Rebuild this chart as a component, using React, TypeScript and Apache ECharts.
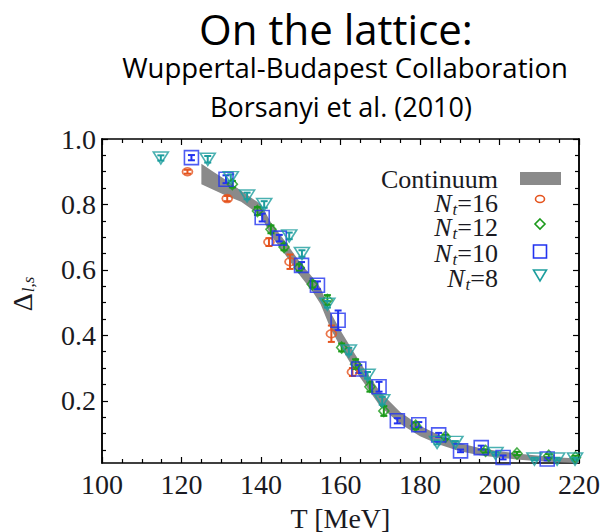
import React, { useEffect, useRef } from "react";
import * as echarts from "echarts";

// ---- axis ticks ----
const xMin = 100;
const xMax = 220;
const xStep = 20;
const yMin = 0.01;
const yMax = 1.0;
const yMajorTicks = [0.2, 0.4, 0.6, 0.8, 1.0];
const yMinorTicks = [0.05, 0.1, 0.15, 0.25, 0.3, 0.35, 0.45, 0.5, 0.55, 0.65, 0.7, 0.75, 0.85, 0.9, 0.95];

// ---- continuum band ----
const bandT = [125, 128, 131, 135, 140, 142.5, 145, 150, 153, 155, 157.5, 160, 163, 166, 170, 175, 180, 185, 190, 195, 200, 205, 210, 215, 220];
const bandLow = [0.862, 0.845, 0.828, 0.808, 0.765, 0.705, 0.665, 0.58, 0.533, 0.495, 0.42, 0.365, 0.305, 0.253, 0.183, 0.13, 0.092, 0.066, 0.046, 0.034, 0.026, 0.02, 0.015, 0.012, 0.01];
const bandHigh = [0.924, 0.9, 0.876, 0.842, 0.8, 0.745, 0.705, 0.62, 0.577, 0.545, 0.47, 0.415, 0.355, 0.297, 0.227, 0.166, 0.124, 0.094, 0.07, 0.056, 0.046, 0.038, 0.032, 0.027, 0.024];

// ---- N_t = 16 ----
const nt16T = [121.5, 131.5, 142.0, 147.3, 157.7, 163.0];
const nt16V = [0.9, 0.818, 0.685, 0.625, 0.405, 0.288];
const nt16E = [0.006, 0.008, 0.012, 0.022, 0.025, 0.012];

// ---- N_t = 12 ----
const nt12T = [132.8, 139.1, 142.5, 145.8, 149.6, 152.9, 156.7, 160.3, 163.8, 167.4, 170.9, 178.9, 186.4, 196.5, 204.4, 212.4, 219.1];
const nt12V = [0.862, 0.78, 0.724, 0.67, 0.607, 0.556, 0.508, 0.363, 0.312, 0.243, 0.169, 0.124, 0.09, 0.047, 0.039, 0.032, 0.027];
const nt12E = [0.01, 0.012, 0.012, 0.01, 0.01, 0.01, 0.015, 0.012, 0.015, 0.015, 0.015, 0.01, 0.006, 0.005, 0.005, 0.005, 0.005];

// ---- N_t = 10 ----
const nt10T = [122.5, 131.2, 140.3, 144.6, 150.2, 154.2, 159.4, 164.6, 169.7, 174.3, 179.7, 184.7, 190.2, 195.4, 200.9, 212.0];
const nt10V = [0.943, 0.877, 0.76, 0.697, 0.614, 0.553, 0.446, 0.297, 0.243, 0.139, 0.127, 0.096, 0.047, 0.057, 0.027, 0.022];
const nt10E = [0.008, 0.012, 0.012, 0.01, 0.01, 0.012, 0.03, 0.012, 0.015, 0.008, 0.008, 0.006, 0.004, 0.006, 0.006, 0.004];

// ---- N_t = 8 ----
const nt8T = [114.8, 126.6, 132.4, 136.5, 140.8, 147.1, 150.3, 156.7, 162.1, 166.8, 170.5, 184.3, 188.9, 199.0, 208.8, 214.5, 219.0];
const nt8V = [0.942, 0.938, 0.882, 0.826, 0.8, 0.704, 0.65, 0.495, 0.352, 0.278, 0.2, 0.073, 0.073, 0.039, 0.022, 0.022, 0.022];
const nt8E = [0.008, 0.01, 0.01, 0.01, 0.01, 0.01, 0.01, 0.01, 0.01, 0.01, 0.012, 0.006, 0.004, 0.004, 0.004, 0.004, 0.004];

const C16 = "#e5541e";
const C12 = "#1c9a1c";
const C10 = "#2233f0";
const C8 = "#1d9e9e";
const BAND = "#8a8a8a";

const SERIF = "Liberation Serif";
const SANS = "Open Sans";
const INK = "#1a1a22";

function errSeries(T: number[], V: number[], E: number[], color: string) {
  return {
    type: "custom",
    silent: true,
    z: 3,
    data: T.map((t, i) => [t, V[i], E[i]]),
    encode: { x: 0, y: 1 },
    renderItem: (_params: any, api: any) => {
      const x = api.value(0);
      const y = api.value(1);
      const e = api.value(2);
      const p1 = api.coord([x, y + e]);
      const p2 = api.coord([x, y - e]);
      const w = 3.5;
      const st = { stroke: color, lineWidth: 2 };
      return {
        type: "group",
        children: [
          { type: "line", shape: { x1: p1[0], y1: p1[1], x2: p2[0], y2: p2[1] }, style: st },
          { type: "line", shape: { x1: p1[0] - w, y1: p1[1], x2: p1[0] + w, y2: p1[1] }, style: st },
          { type: "line", shape: { x1: p2[0] - w, y1: p2[1], x2: p2[0] + w, y2: p2[1] }, style: st },
        ],
      };
    },
  };
}

function scatter(name: string, T: number[], V: number[], color: string, symbol: string, size: any, rotate = 0) {
  return {
    name,
    type: "scatter",
    z: 4,
    data: T.map((t, i) => [t, V[i]]),
    symbol,
    symbolSize: size,
    symbolRotate: rotate,
    itemStyle: { color: "rgba(255,255,255,0)", borderColor: color, borderWidth: 1.6 },
  };
}

const axisLineStyle = { color: "#000", width: 1.5 };

function yAxisDef(position: string, ticks: number[], len: number, labels: boolean) {
  return {
    type: "value",
    position,
    min: yMin,
    max: yMax,
    splitLine: { show: false },
    axisLine: { show: true, onZero: false, lineStyle: axisLineStyle },
    axisTick: { show: true, inside: true, length: len, customValues: ticks, lineStyle: { color: "#000", width: 1.2 } },
    axisLabel: labels
      ? {
          show: true,
          customValues: yMajorTicks,
          formatter: (v: number) => v.toFixed(1),
          fontFamily: SERIF,
          fontSize: 28,
          color: INK,
          margin: 6,
        }
      : { show: false },
  };
}

function xAxisDef(position: string, labels: boolean) {
  return {
    type: "value",
    position,
    min: xMin,
    max: xMax,
    interval: xStep,
    splitLine: { show: false },
    axisLine: { show: true, onZero: false, lineStyle: axisLineStyle },
    axisTick: { show: true, inside: true, length: 6, lineStyle: { color: "#000", width: 1.2 } },
    minorTick: { show: true, splitNumber: 4, length: 4, lineStyle: { color: "#000", width: 1.2 } },
    axisLabel: labels
      ? { show: true, fontFamily: SERIF, fontSize: 28, color: INK, margin: 7 }
      : { show: false },
    name: labels ? "T [MeV]" : "",
    nameLocation: "middle",
    nameGap: 41,
    nameTextStyle: { fontFamily: SERIF, fontSize: 28, color: INK },
  };
}

const legendRows = [
  { label: "16", y: 203 },
  { label: "12", y: 227 },
  { label: "10", y: 253 },
  { label: "8", y: 278 },
];

export default function App() {
  const ref = useRef<HTMLDivElement>(null);
  useEffect(() => {
    if (!ref.current) return;
    const chart = echarts.init(ref.current, null, { renderer: "svg" });
    const legendText = legendRows.map((r) => ({
      type: "text",
      x: 498,
      y: r.y,
      style: {
        text: `{n|N}{t|t}{r|=${r.label}}`,
        align: "right",
        verticalAlign: "middle",
        fill: INK,
        rich: {
          n: { fontFamily: SERIF, fontSize: 26, lineHeight: 20, fontStyle: "italic", fill: INK },
          t: { fontFamily: SERIF, fontSize: 17, lineHeight: 12, fontStyle: "italic", fill: INK, padding: [12, 0, 0, 1] },
          r: { fontFamily: SERIF, fontSize: 26, lineHeight: 20, fill: INK },
        },
      },
    }));
    const option: any = {
      animation: false,
      backgroundColor: "#fff",
      grid: { left: 102, right: 25, top: 139, bottom: 69, containLabel: false, outerBoundsMode: "none" },
      xAxis: [xAxisDef("bottom", true), xAxisDef("top", false)],
      yAxis: [
        yAxisDef("left", yMajorTicks, 6, true),
        yAxisDef("left", yMinorTicks, 4, false),
        yAxisDef("right", yMajorTicks, 6, false),
        yAxisDef("right", yMinorTicks, 4, false),
      ],
      series: [
        {
          type: "custom",
          name: "Continuum",
          silent: true,
          z: 1,
          data: [[bandT[0], bandLow[0]]],
          encode: { x: 0, y: 1 },
          renderItem: (_p: any, api: any) => {
            const top = bandT.map((t, i) => api.coord([t, bandHigh[i]]));
            const bot = bandT.map((t, i) => api.coord([t, bandLow[i]])).reverse();
            return { type: "polygon", shape: { points: top.concat(bot) }, style: { fill: BAND } };
          },
        },
        errSeries(nt16T, nt16V, nt16E, C16),
        scatter("Nt=16", nt16T, nt16V, C16, "circle", [10, 8]),
        errSeries(nt12T, nt12V, nt12E, C12),
        scatter("Nt=12", nt12T, nt12V, C12, "diamond", [10, 11]),
        errSeries(nt10T, nt10V, nt10E, C10),
        scatter("Nt=10", nt10T, nt10V, C10, "rect", [14, 14]),
        errSeries(nt8T, nt8V, nt8E, C8),
        scatter("Nt=8", nt8T, nt8V, C8, "triangle", [15, 12], 180),
      ],
      graphic: [
        { type: "text", x: 336, y: 28, style: { text: "On the lattice:", fontFamily: SANS, fontSize: 42, fill: "#000", align: "center", verticalAlign: "middle" } },
        { type: "text", x: 345, y: 67, style: { text: "Wuppertal-Budapest Collaboration", fontFamily: SANS, fontSize: 27.5, fill: "#000", align: "center", verticalAlign: "middle" } },
        { type: "text", x: 341, y: 106, style: { text: "Borsanyi et al. (2010)", fontFamily: SANS, fontSize: 27, fill: "#000", align: "center", verticalAlign: "middle" } },
        {
          type: "text",
          x: 22,
          y: 294,
          rotation: Math.PI / 2,
          style: {
            text: "{d|Δ}{s|l,s}",
            align: "center",
            verticalAlign: "middle",
            rich: {
              d: { fontFamily: SERIF, fontSize: 28, lineHeight: 22, fill: INK },
              s: { fontFamily: SERIF, fontSize: 17, lineHeight: 12, fontStyle: "italic", fill: INK, padding: [13, 0, 0, 1] },
            },
          },
        },
        { type: "text", x: 498, y: 179, style: { text: "Continuum", fontFamily: SERIF, fontSize: 26, lineHeight: 20, fill: INK, align: "right", verticalAlign: "middle" } },
        ...legendText,
        { type: "rect", shape: { x: 520, y: 172, width: 41, height: 13 }, style: { fill: BAND } },
        { type: "ellipse", shape: { cx: 540, cy: 199, rx: 4.5, ry: 3.5 }, style: { fill: "none", stroke: C16, lineWidth: 1.6 } },
        { type: "polygon", shape: { points: [[540, 219], [545, 224], [540, 229], [535, 224]] }, style: { fill: "none", stroke: C12, lineWidth: 1.6 } },
        { type: "rect", shape: { x: 533.5, y: 245, width: 13, height: 13 }, style: { fill: "none", stroke: C10, lineWidth: 1.6 } },
        { type: "polygon", shape: { points: [[533.5, 270], [546.5, 270], [540, 281]] }, style: { fill: "none", stroke: C8, lineWidth: 1.6 } },
      ],
    };
    chart.setOption(option);
    return () => chart.dispose();
  }, []);
  return <div ref={ref} style={{ position: "fixed", left: 0, top: 0, width: 604, height: 532 }} />;
}
